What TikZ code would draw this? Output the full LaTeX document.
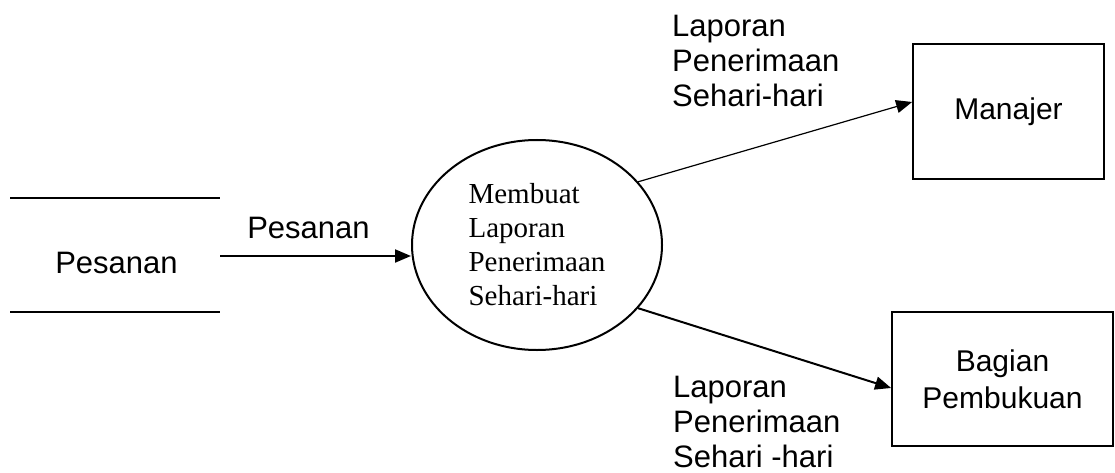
\documentclass[tikz,border=0pt]{standalone}
\usepackage{fontspec}
\setmainfont{Liberation Serif}
\setsansfont{Liberation Sans}
\usetikzlibrary{arrows.meta,calc,shapes.geometric}
\tikzset{
  flow/.style={line width=2pt,-{Triangle[length=16pt,width=13pt]}},
  entity/.style={draw,line width=1.8pt,rectangle,inner sep=0pt,align=center,font=\sffamily\fontsize{30}{37}\selectfont},
  proc/.style={draw,line width=2pt,ellipse,inner sep=0pt,minimum width=250pt,minimum height=210pt,align=left,font=\rmfamily\fontsize{29}{34}\selectfont},
  lbl/.style={inner sep=0pt,align=left,font=\sffamily\fontsize{31}{35}\selectfont},
  storeline/.style={line width=2pt}
}
\begin{document}
\begin{tikzpicture}[x=1pt,y=-1pt]
\useasboundingbox (0,0) rectangle (1115,473);
% data store
\draw[storeline] (10,198) -- (220,198);
\draw[storeline] (10,312) -- (220,312);
\node[inner sep=0pt,anchor=base,font=\sffamily\fontsize{31}{35}\selectfont] (store) at (116.5,273) {Pesanan};
\coordinate (storeout) at (220,256);
% process
\node[proc] (proc) at (537,245) {Membuat\\Laporan\\Penerimaan\\Sehari-hari};
% entities
\node[entity,minimum width=191pt,minimum height=135pt] (man) at (1008.5,111.5) {Manajer};
\node[entity,minimum width=221pt,minimum height=134pt] (bag) at (1002.5,379) {Bagian\\Pembukuan};
% flows
\draw[flow] (storeout) -- (storeout -| proc.west);
\draw[flow,line width=1.2pt] (proc.32) -- ($(man.west)+(0,-9.5)$);
\draw[flow] (proc.-32) -- ($(bag.west)+(0,9)$);
% labels
\node[lbl,anchor=base] (l1) at (308.5,238) {Pesanan};
\node[lbl,anchor=north west] (l2) at (672,14.8) {Laporan\\Penerimaan\\Sehari-hari};
\node[lbl,anchor=north west] (l3) at (673,376) {Laporan\\Penerimaan\\Sehari -hari};
\end{tikzpicture}
\end{document}
